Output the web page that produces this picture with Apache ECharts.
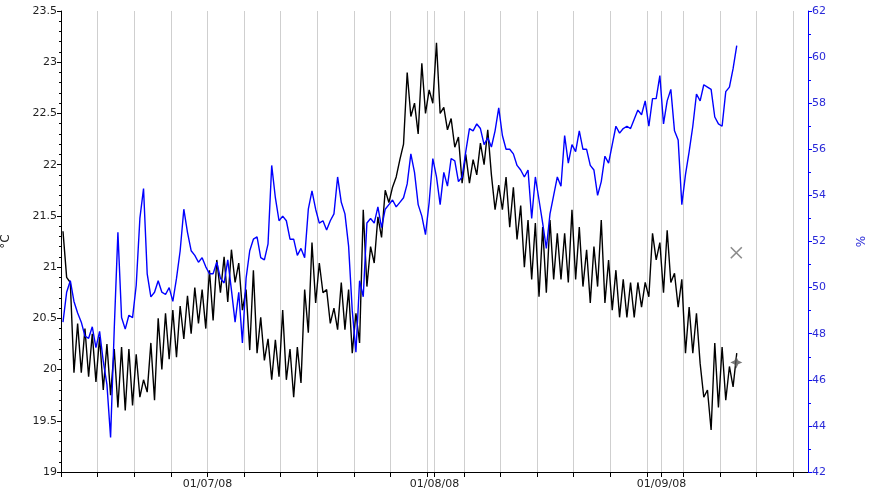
<!DOCTYPE html>
<html><head><meta charset="utf-8">
<script src="https://cdn.jsdelivr.net/npm/echarts@6/dist/echarts.min.js"></script>
<style>html,body{margin:0;padding:0;background:#fff}#c{width:870px;height:497px}</style>
</head><body><div id="c"></div>
<script>
const DAY = 86400000;
const axisStart = Date.UTC(2008, 5, 11);
const axisEndDay = 102;
const seriesStart = Date.UTC(2008, 5, 11, 6, 30);
const stepHours = 12;
const tickEveryDays = 5;
const monthLabels = ['01/07/08', '01/08/08', '01/09/08'];
const monthDates = [Date.UTC(2008, 6, 1), Date.UTC(2008, 7, 1), Date.UTC(2008, 8, 1)];

const tempC = [
21.35,20.9,20.85,19.97,20.45,19.97,20.4,19.93,20.35,19.88,
20.32,19.8,20.25,19.75,20.2,19.63,20.22,19.6,20.2,19.65,
20.15,19.73,19.9,19.78,20.26,19.7,20.5,20.0,20.55,20.1,
20.58,20.12,20.62,20.3,20.72,20.35,20.8,20.45,20.78,20.4,
20.97,20.48,21.07,20.75,21.1,20.66,21.17,20.85,21.04,20.58,
20.78,20.19,20.97,20.16,20.51,20.09,20.3,19.9,20.29,19.93,
20.58,19.9,20.2,19.73,20.22,19.87,20.78,20.36,21.24,20.65,
21.04,20.75,20.78,20.45,20.6,20.39,20.85,20.39,20.78,20.16,
20.55,20.26,21.56,20.81,21.2,21.04,21.49,21.29,21.75,21.63,
21.78,21.88,22.05,22.2,22.9,22.47,22.6,22.3,22.99,22.5,
22.73,22.6,23.19,22.5,22.56,22.34,22.45,22.17,22.27,21.82,
22.1,21.82,22.05,21.9,22.21,22.0,22.34,21.9,21.56,21.8,
21.56,21.88,21.39,21.78,21.27,21.6,21.0,21.46,20.88,21.43,
20.71,21.39,20.75,21.46,20.88,21.33,20.88,21.33,20.85,21.56,
20.88,21.39,20.81,21.17,20.65,21.2,20.81,21.46,20.65,21.07,
20.58,20.97,20.51,20.88,20.51,20.85,20.51,20.85,20.61,20.85,
20.71,21.33,21.07,21.24,20.75,21.36,20.85,20.94,20.61,20.88,
20.16,20.61,20.16,20.55,20.06,19.73,19.8,19.41,20.26,19.63,
20.22,19.7,20.03,19.83,20.16
];

const humidity = [
48.5,49.8,50.3,49.4,48.9,48.5,47.9,47.8,48.3,47.4,
48.1,46.8,45.8,43.5,48.2,52.4,48.7,48.2,48.8,48.7,
50.1,53.0,54.3,50.6,49.6,49.8,50.3,49.8,49.7,50.0,
49.4,50.4,51.6,53.4,52.4,51.6,51.4,51.1,51.3,50.9,
50.6,50.6,51.1,50.4,50.2,51.2,49.9,48.5,49.8,47.6,
50.4,51.6,52.1,52.2,51.3,51.2,51.9,55.3,53.9,52.9,
53.1,52.9,52.1,52.1,51.4,51.7,51.3,53.4,54.2,53.4,
52.8,52.9,52.5,52.9,53.2,54.8,53.7,53.2,51.8,49.0,
47.2,50.3,49.6,52.8,53.0,52.8,53.5,52.6,53.4,53.6,
53.8,53.5,53.7,53.9,54.5,55.8,55.0,53.6,53.1,52.3,
53.7,55.6,54.8,53.6,55.0,54.4,55.6,55.5,54.6,54.8,
55.9,56.9,56.8,57.1,56.9,56.2,56.5,56.1,56.8,57.8,
56.6,56.0,56.0,55.8,55.3,55.1,54.8,55.1,53.0,54.8,
53.8,52.8,51.7,53.2,54.0,54.8,54.4,56.6,55.4,56.2,
55.9,56.8,56.0,56.0,55.3,55.1,54.0,54.6,55.7,55.4,
56.2,57.0,56.7,56.9,57.0,56.9,57.3,57.7,57.5,58.1,
57.0,58.2,58.2,59.2,57.1,58.1,58.6,56.8,56.4,53.6,
54.9,55.9,57.0,58.4,58.1,58.8,58.7,58.6,57.4,57.1,
57.0,58.5,58.7,59.5,60.5
];

const markerTime = Date.UTC(2008, 8, 11, 5, 0);
const crossMarkerC = 21.14;
const currentMarkerC = 20.07;

const toDay = t => (t - axisStart) / DAY;
const xAt = i => toDay(seriesStart) + i * stepHours / 24;
const tempData = tempC.map((v, i) => [xAt(i), v]);
const humData = humidity.map((v, i) => [xAt(i), v]);
const monthDays = monthDates.map(toDay);
const tickDays = [];
for (let d = 0; d <= 100; d += tickEveryDays) tickDays.push(d);
monthDays.forEach(d => { if (tickDays.indexOf(d) < 0) tickDays.push(d); });
tickDays.sort((a, b) => a - b);

const FONT = 'DejaVu Sans';
const chart = echarts.init(document.getElementById('c'), null, {renderer: 'canvas'});
chart.setOption({
  animation: false,
  backgroundColor: '#ffffff',
  textStyle: {fontFamily: FONT},
  grid: {left: 61, right: 62, top: 11, bottom: 25, containLabel: false, outerBoundsMode: 'none'},
  xAxis: {
    type: 'value', min: 0, max: axisEndDay, interval: tickEveryDays,
    axisLine: {show: true, onZero: false, lineStyle: {color: '#000', width: 1}},
    axisTick: {show: true, customValues: tickDays, length: 5, lineStyle: {color: '#000'}},
    axisLabel: {
      customValues: monthDays, color: '#222', fontSize: 11, fontFamily: FONT, margin: 7,
      formatter: v => { const k = monthDays.findIndex(m => Math.abs(m - v) < 1e-6); return k >= 0 ? monthLabels[k] : ''; }
    },
    splitLine: {show: true, lineStyle: {color: '#cfcfcf', width: 1}}
  },
  yAxis: [{
    type: 'value', min: 19, max: 23.5, interval: 0.5, position: 'left',
    name: '°C', nameLocation: 'middle', nameGap: 49,
    nameTextStyle: {color: '#222', fontSize: 12, fontFamily: FONT},
    axisLine: {show: true, lineStyle: {color: '#000'}},
    axisTick: {show: true, length: 4, lineStyle: {color: '#000'}},
    minorTick: {show: true, splitNumber: 5, length: 2, lineStyle: {color: '#000'}},
    axisLabel: {color: '#222', fontSize: 11, fontFamily: FONT, margin: 4},
    splitLine: {show: false}
  }, {
    type: 'value', min: 42, max: 62, interval: 2, position: 'right',
    name: '%', nameLocation: 'middle', nameGap: 48,
    nameTextStyle: {color: '#2a2ad8', fontSize: 12, fontFamily: FONT},
    axisLine: {show: true, lineStyle: {color: '#0000ff'}},
    axisTick: {show: true, length: 4, lineStyle: {color: '#0000ff'}},
    minorTick: {show: true, splitNumber: 2, length: 3, lineStyle: {color: '#0000ff'}},
    axisLabel: {color: '#2a2ad8', fontSize: 11, fontFamily: FONT, margin: 4},
    splitLine: {show: false}
  }],
  series: [{
    name: 'Temperature', type: 'line', yAxisIndex: 0, data: tempData,
    showSymbol: false, symbol: 'none', lineStyle: {color: '#000', width: 1.4}, z: 2
  }, {
    name: 'Humidity', type: 'line', yAxisIndex: 1, data: humData,
    showSymbol: false, symbol: 'none', lineStyle: {color: '#0000ff', width: 1.4}, z: 3
  }, {
    name: 'cross', type: 'scatter', yAxisIndex: 0,
    data: [[toDay(markerTime), crossMarkerC]],
    symbol: 'path://M0,0L10,10M10,0L0,10', symbolSize: 11,
    itemStyle: {color: 'rgba(0,0,0,0)', borderColor: '#6e6e6e', borderWidth: 1.6}, z: 4
  }, {
    name: 'current', type: 'scatter', yAxisIndex: 0,
    data: [[toDay(markerTime), currentMarkerC]],
    symbol: 'path://M5,0L6.6,3.4L10,5L6.6,6.6L5,10L3.4,6.6L0,5L3.4,3.4Z', symbolSize: 12,
    itemStyle: {color: '#555555'}, z: 4
  }]
});
</script>
</body></html>
